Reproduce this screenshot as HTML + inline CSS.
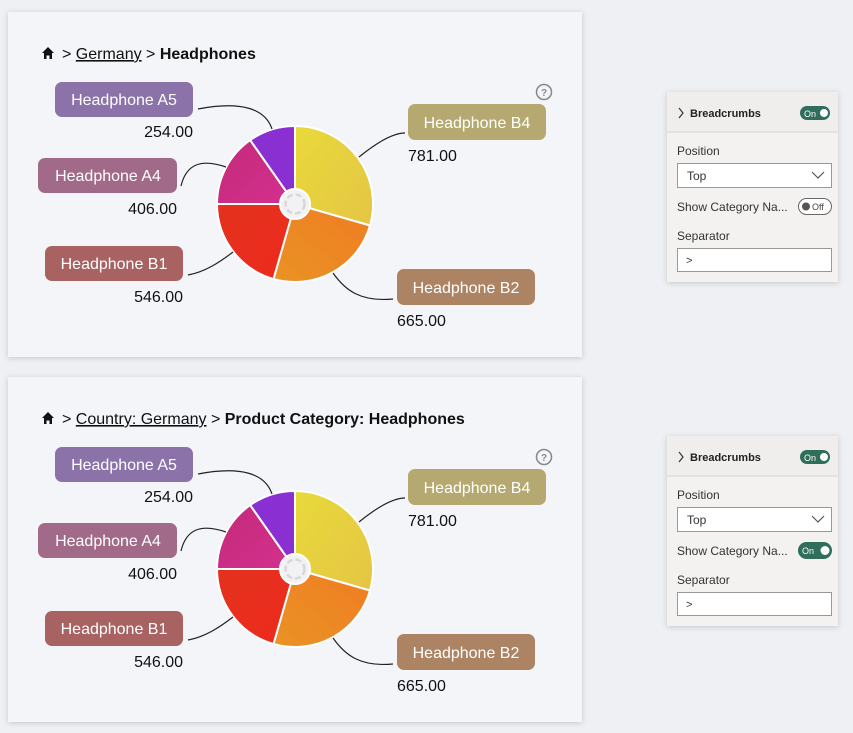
<!DOCTYPE html>
<html><head><meta charset="utf-8"><style>
html,body{margin:0;padding:0;background:#eff0f4;}
svg{display:block;font-family:"Liberation Sans",sans-serif;}
</style></head><body>
<svg width="853" height="733" viewBox="0 0 853 733" xmlns="http://www.w3.org/2000/svg">
<defs>
<filter id="sh" x="-10%" y="-10%" width="120%" height="120%"><feDropShadow dx="0" dy="1" stdDeviation="3" flood-color="#000" flood-opacity="0.18"/></filter>
<linearGradient id="gy" x1="0" y1="0" x2="1" y2="1"><stop offset="0" stop-color="#e8da3a"/><stop offset="1" stop-color="#e5c545"/></linearGradient>
<linearGradient id="go" x1="1" y1="0" x2="0" y2="1"><stop offset="0" stop-color="#f07c22"/><stop offset="1" stop-color="#e99325"/></linearGradient>
<linearGradient id="gr" x1="0" y1="0" x2="1" y2="1"><stop offset="0" stop-color="#e3321f"/><stop offset="1" stop-color="#ee2a1c"/></linearGradient>
<linearGradient id="gm" x1="0" y1="0" x2="1" y2="1"><stop offset="0" stop-color="#c42a78"/><stop offset="1" stop-color="#d43090"/></linearGradient>
<g id="pie">
 <path d="M295,204 L295,126 A78,78 0 0 1 370,225.5 Z" fill="url(#gy)" stroke="#fff" stroke-width="2"/>
 <path d="M295,204 L370,225.5 A78,78 0 0 1 273.5,279 Z" fill="url(#go)" stroke="#fff" stroke-width="2"/>
 <path d="M295,204 L273.5,279 A78,78 0 0 1 217,204 Z" fill="url(#gr)" stroke="#fff" stroke-width="2"/>
 <path d="M295,204 L217,204 A78,78 0 0 1 250.2,140.1 Z" fill="url(#gm)" stroke="#fff" stroke-width="2"/>
 <path d="M295,204 L250.2,140.1 A78,78 0 0 1 295,126 Z" fill="#8a30d2" stroke="#fff" stroke-width="2"/>
 <circle cx="295" cy="204" r="15" fill="#f2f2f4" stroke="#fff" stroke-width="2"/>
 <circle cx="295" cy="204" r="9.5" fill="none" stroke="#d8d8dc" stroke-width="2.5" stroke-dasharray="6 3"/>
 <path d="M198,109 C240,101 265,108 272,129" fill="none" stroke="#222" stroke-width="1.2"/>
 <path d="M181,186 C186,165 200,158 226,167" fill="none" stroke="#222" stroke-width="1.2"/>
 <path d="M188,275 C205,272 220,262 233,252" fill="none" stroke="#222" stroke-width="1.2"/>
 <path d="M359,157 C375,144 392,133 405,133" fill="none" stroke="#222" stroke-width="1.2"/>
 <path d="M333,273 C345,290 360,302 393,299" fill="none" stroke="#222" stroke-width="1.2"/>
 <circle cx="544" cy="92" r="7.5" fill="none" stroke="#888" stroke-width="1.5"/>
 <text x="544" y="96" font-size="10" fill="#888" text-anchor="middle" font-weight="bold">?</text>
 <rect x="55" y="82" width="138" height="35" rx="7" fill="#8b72a8"/>
 <text x="124" y="105" font-size="16" fill="#fff" text-anchor="middle">Headphone A5</text>
 <text x="193" y="137" font-size="16" fill="#111" text-anchor="end">254.00</text>
 <rect x="38" y="158" width="139" height="35" rx="7" fill="#a06a88"/>
 <text x="108" y="181" font-size="16" fill="#fff" text-anchor="middle">Headphone A4</text>
 <text x="177" y="214" font-size="16" fill="#111" text-anchor="end">406.00</text>
 <rect x="45" y="246" width="138" height="35" rx="7" fill="#a86262"/>
 <text x="114" y="269" font-size="16" fill="#fff" text-anchor="middle">Headphone B1</text>
 <text x="183" y="302" font-size="16" fill="#111" text-anchor="end">546.00</text>
 <rect x="408" y="104" width="138" height="36" rx="7" fill="#b5a870"/>
 <text x="477" y="128" font-size="16" fill="#fff" text-anchor="middle">Headphone B4</text>
 <text x="408" y="161" font-size="16" fill="#111">781.00</text>
 <rect x="397" y="269" width="138" height="36" rx="7" fill="#ad8463"/>
 <text x="466" y="293" font-size="16" fill="#fff" text-anchor="middle">Headphone B2</text>
 <text x="397" y="326" font-size="16" fill="#111">665.00</text>
</g>
<g id="home"><path d="M42,53 L48,47 L54,53 L52,53 L52,59 L49.5,59 L49.5,55.5 L46.5,55.5 L46.5,59 L44,59 L44,53 Z" fill="#111"/></g>
</defs>

<rect x="8" y="12" width="574" height="345" fill="#f4f5f9" filter="url(#sh)"/>
<use href="#home"/>
<text x="62" y="59" font-size="16" fill="#111">&gt; <tspan text-decoration="underline">Germany</tspan> &gt; <tspan font-weight="bold">Headphones</tspan></text>
<use href="#pie"/>

<rect x="8" y="377" width="574" height="345" fill="#f4f5f9" filter="url(#sh)"/>
<use href="#home" y="365"/>
<text x="62" y="424" font-size="16" fill="#111">&gt; <tspan text-decoration="underline">Country: Germany</tspan> &gt; <tspan font-weight="bold">Product Category: Headphones</tspan></text>
<use href="#pie" y="365"/>

<g>
 <rect x="667" y="92" width="171" height="190" fill="#f3f2f0" filter="url(#sh)"/>
 <rect x="667" y="92" width="171" height="40" fill="#efeeec"/>
 <line x1="667" y1="132" x2="838" y2="132" stroke="#d5d4d2"/>
 <path d="M679,108 L683,113 L679,118" fill="none" stroke="#333" stroke-width="1.2"/>
 <text x="690" y="117" font-size="11" font-weight="bold" fill="#222">Breadcrumbs</text>
 <rect x="800" y="106" width="30" height="14" rx="7" fill="#2e6e5a"/>
 <text x="804" y="117" font-size="9" fill="#fff">On</text>
 <circle cx="824" cy="113" r="4" fill="#fff"/>
 <text x="677" y="155" font-size="12" fill="#333">Position</text>
 <rect x="677.5" y="163.5" width="154" height="24" fill="#fff" stroke="#999"/>
 <text x="687" y="180" font-size="12" fill="#333">Top</text>
 <path d="M812,172 L818,178 L824,172" fill="none" stroke="#555" stroke-width="1.2"/>
 <text x="677" y="211" font-size="12" fill="#333">Show Category Na...</text>
 <rect x="798.5" y="198.5" width="33" height="16" rx="8" fill="#fff" stroke="#666"/>
 <circle cx="806" cy="206.5" r="4" fill="#555"/>
 <text x="812" y="210" font-size="9" fill="#444">Off</text>
 <text x="677" y="240" font-size="12" fill="#333">Separator</text>
 <rect x="677.5" y="248.5" width="154" height="23" fill="#fff" stroke="#999"/>
 <text x="686" y="264" font-size="11" fill="#333">&gt;</text>
</g>
<g transform="translate(0,344)">
 <rect x="667" y="92" width="171" height="190" fill="#f3f2f0" filter="url(#sh)"/>
 <rect x="667" y="92" width="171" height="40" fill="#efeeec"/>
 <line x1="667" y1="132" x2="838" y2="132" stroke="#d5d4d2"/>
 <path d="M679,108 L683,113 L679,118" fill="none" stroke="#333" stroke-width="1.2"/>
 <text x="690" y="117" font-size="11" font-weight="bold" fill="#222">Breadcrumbs</text>
 <rect x="800" y="106" width="30" height="14" rx="7" fill="#2e6e5a"/>
 <text x="804" y="117" font-size="9" fill="#fff">On</text>
 <circle cx="824" cy="113" r="4" fill="#fff"/>
 <text x="677" y="155" font-size="12" fill="#333">Position</text>
 <rect x="677.5" y="163.5" width="154" height="24" fill="#fff" stroke="#999"/>
 <text x="687" y="180" font-size="12" fill="#333">Top</text>
 <path d="M812,172 L818,178 L824,172" fill="none" stroke="#555" stroke-width="1.2"/>
 <text x="677" y="211" font-size="12" fill="#333">Show Category Na...</text>
 <rect x="798" y="198" width="34" height="17" rx="8.5" fill="#2e6e5a"/>
 <text x="802" y="210" font-size="9" fill="#fff">On</text>
 <circle cx="825" cy="206.5" r="4.5" fill="#fff"/>
 <text x="677" y="240" font-size="12" fill="#333">Separator</text>
 <rect x="677.5" y="248.5" width="154" height="23" fill="#fff" stroke="#999"/>
 <text x="686" y="264" font-size="11" fill="#333">&gt;</text>
</g>
</svg>
</body></html>
